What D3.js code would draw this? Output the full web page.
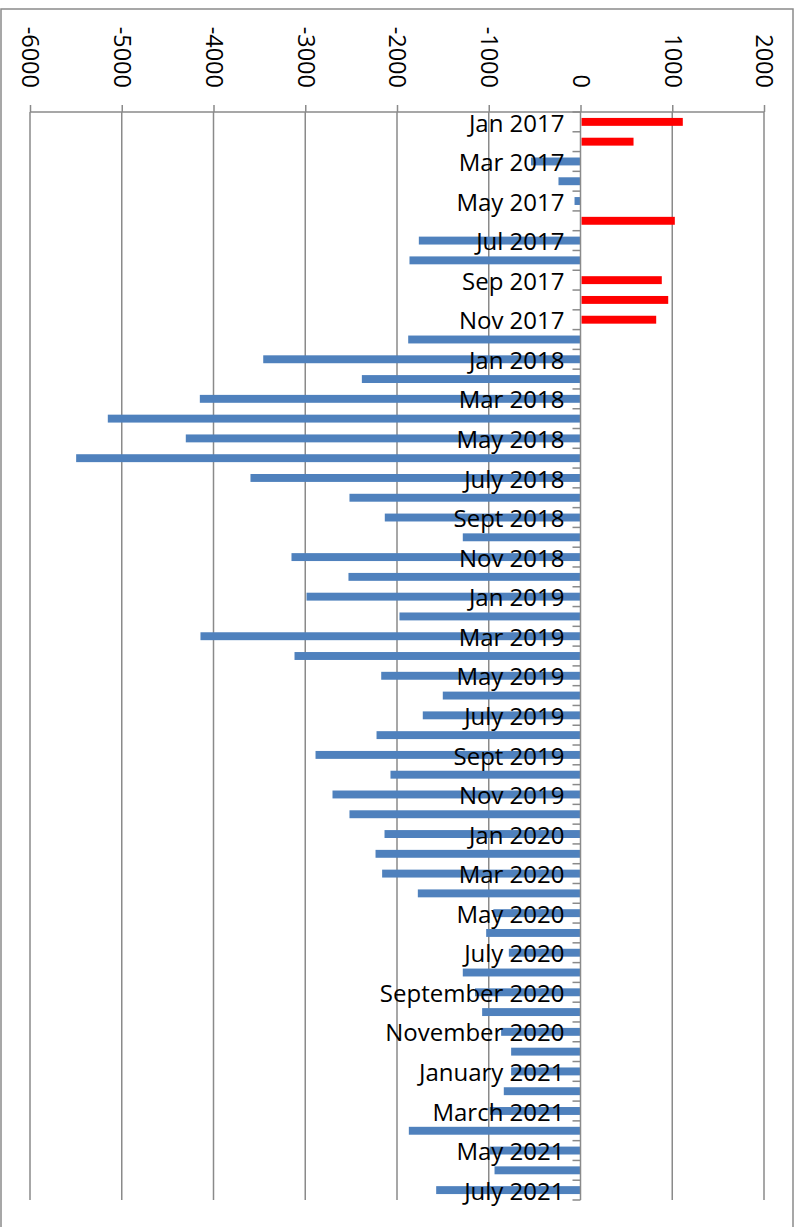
<!DOCTYPE html>
<html>
<head>
<meta charset="utf-8">
<script src="https://cdn.jsdelivr.net/npm/d3@7"></script>
<style>
  html, body { margin: 0; padding: 0; background: #fff; }
  svg { display: block; }
  text { font-family: "Open Sans", "Noto Sans", sans-serif; fill: #000; }
</style>
</head>
<body>
<svg id="chart" width="800" height="1227"></svg>
<script>
// ---- data ----
const categories = [
  "Jan 2017","Feb 2017","Mar 2017","Apr 2017","May 2017","Jun 2017","Jul 2017","Aug 2017","Sep 2017","Oct 2017","Nov 2017","Dec 2017",
  "Jan 2018","Feb 2018","Mar 2018","Apr 2018","May 2018","June 2018","July 2018","Aug 2018","Sept 2018","Oct 2018","Nov 2018","Dec 2018",
  "Jan 2019","Feb 2019","Mar 2019","Apr 2019","May 2019","June 2019","July 2019","Aug 2019","Sept 2019","Oct 2019","Nov 2019","Dec 2019",
  "Jan 2020","Feb 2020","Mar 2020","Apr 2020","May 2020","June 2020","July 2020","August 2020","September 2020","October 2020","November 2020","December 2020",
  "January 2021","February 2021","March 2021","April 2021","May 2021","June 2021","July 2021"
];
const values2017 = [1115, 578, -540, -240, -65, 1028, -1762, -1864, 886, 956, 825, -1878];
const values2018 = [-3458, -2383, -4149, -5152, -4302, -5497, -3597, -2518, -2133, -1283, -3150, -2529];
const values2019 = [-2986, -1973, -4142, -3117, -2172, -1501, -1719, -2223, -2888, -2071, -2703, -2518];
const values2020 = [-2136, -2234, -2162, -1773, -950, -1028, -781, -1283, -1150, -1072, -865, -756];
const values2021 = [-756, -836, -990, -1871, -990, -937, -1573];
const values = [].concat(values2017, values2018, values2019, values2020, values2021);
const xTicks = [-6000, -5000, -4000, -3000, -2000, -1000, 0, 1000, 2000];

const data = categories.map((c, i) => ({ cat: c, value: values[i], idx: i }));

// ---- layout ----
const svg = d3.select("#chart");
const plotTop = 112, plotBottom = 1200;
const x = d3.scaleLinear().domain([-6000, 2000]).range([30, 764]);
const y = d3.scaleBand().domain(categories).range([plotTop, plotBottom]).padding(0);
const step = y.step();
const barH = step * 0.4;
const gridColor = "#8a8a8a";
const fontFam = '"Open Sans", "Noto Sans", sans-serif';

// outer frame
svg.append("rect")
  .attr("x", 1).attr("y", 9).attr("width", 792).attr("height", 1240)
  .attr("fill", "none").attr("stroke", gridColor).attr("stroke-width", 1.5);

// vertical gridlines
svg.append("g").selectAll("line").data(xTicks.filter(t => t !== 0)).join("line")
  .attr("x1", d => x(d)).attr("x2", d => x(d))
  .attr("y1", plotTop).attr("y2", plotBottom)
  .attr("stroke", gridColor).attr("stroke-width", 1.5);

// bars
svg.append("g").selectAll("rect").data(data).join("rect")
  .attr("x", d => d.value >= 0 ? x(0) + 1 : x(d.value))
  .attr("y", d => y(d.cat) + (step - barH) / 2)
  .attr("width", d => Math.abs(x(d.value) - x(0)) - (d.value >= 0 ? 1 : 0))
  .attr("height", barH)
  .attr("fill", d => d.value >= 0 ? "#ff0000" : "#4f81bd");

// top value axis
const xAxis = d3.axisTop(x).tickValues(xTicks).tickSize(7).tickFormat(d => String(d));
const gx = svg.append("g").attr("transform", `translate(0,${plotTop})`).call(xAxis);
gx.select(".domain").attr("stroke", gridColor).attr("stroke-width", 1.5)
  .attr("d", `M${x(-6000)},0H${x(2000)}`);
gx.selectAll(".tick line").attr("stroke", gridColor).attr("stroke-width", 1.5);
gx.selectAll(".tick text")
  .attr("transform", "translate(0,-24) rotate(90)")
  .attr("x", 0).attr("y", 0).attr("dy", "0.35em")
  .attr("text-anchor", "end")
  .style("font-family", fontFam)
  .style("font-size", "23.5px")
  .attr("fill", "#000");

// category axis at zero
const yAxis = d3.axisLeft(y).tickSize(0).tickFormat((d, i) => i % 2 === 0 ? d : "");
const gy = svg.append("g").attr("transform", `translate(${x(0)},0)`).call(yAxis);
gy.select(".domain").attr("stroke", gridColor).attr("stroke-width", 1.5)
  .attr("d", `M0,${plotTop}V${plotBottom}`);
gy.selectAll(".tick text")
  .attr("x", -16).attr("dy", "0.4em")
  .attr("text-anchor", "end")
  .style("font-family", fontFam)
  .style("font-size", "24px")
  .attr("fill", "#000");

// category boundary ticks
const bounds = d3.range(categories.length + 1).map(i => plotTop + i * step);
svg.append("g").selectAll("line").data(bounds).join("line")
  .attr("x1", x(0) - 8).attr("x2", x(0))
  .attr("y1", d => d).attr("y2", d => d)
  .attr("stroke", gridColor).attr("stroke-width", 1.5);
</script>
</body>
</html>
